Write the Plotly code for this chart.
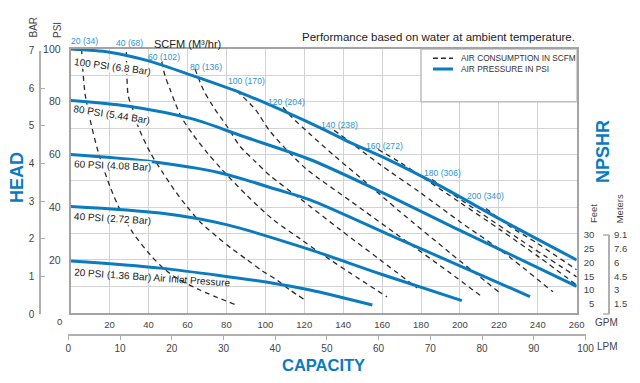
import plotly.graph_objects as go

# page body has an 8px margin: figure drawn at (8,8); size chosen to fit the 640x383 window
OFF = 8
W, H = 640 - 2 * OFF, 383 - 2 * OFF
def px(x): return (x - OFF) / W
def py(y): return 1 - (y - OFF) / H

BLUE = "#0b7bbf"
LBLUE = "#2f93cf"
TXT = "#333333"
GRID = "#d3d3d3"
AX = "#a3a3a3"
FONT = "Liberation Sans, Arial, Helvetica, sans-serif"

# ---------------- data ----------------
gpm_ticks = list(range(20, 261, 20))
psi_ticks = list(range(0, 101, 10))
psi_text = ["", "", "20", "", "40", "", "60", "", "80", "", "100"]
bar_ticks = list(range(0, 8))
lpm_ticks = list(range(0, 101, 10))
npshr_feet = [5, 10, 15, 20, 25, 30]
npshr_m = ["1.5", "3", "4.5", "6", "7.6", "9.1"]

pressure_names = ["100 PSI (6.8 Bar)", "80 PSI (5.44 Bar)", "60 PSI (4.08 Bar)",
                  "40 PSI (2.72 Bar)", "20 PSI (1.36 Bar) Air Inlet Pressure"]
p100_gpm = [0, 20, 40, 63, 88, 113, 128, 142, 161, 190, 221, 260]
p100_psi = [100, 98.8, 95.5, 89.8, 83.2, 75.3, 70.2, 65.1, 58.8, 48.0, 35.3, 20.0]
p80_gpm = [0, 29, 63, 88, 123, 157, 200, 260]
p80_psi = [80.5, 78.4, 73.4, 67.0, 58.1, 46.7, 31.2, 10.0]
p60_gpm = [0, 39, 77, 106, 123, 169, 236]
p60_psi = [60.0, 57.5, 53.0, 46.7, 42.8, 27.8, 6.1]
p40_gpm = [0, 46, 80, 123, 160, 201]
p40_psi = [40.3, 37.8, 33.4, 23.9, 14.5, 4.6]
p20_gpm = [0, 46, 104, 123, 155]
p20_psi = [19.6, 16.9, 11.2, 8.6, 2.9]

air_names = ["20 (34)", "40 (68)", "60 (102)", "80 (136)", "100 (170)",
             "120 (204)", "140 (238)", "160 (272)", "180 (306)", "200 (340)"]
a20_gpm = [5.6, 6.2, 7.4, 9.9, 14.2, 20.2, 25.3, 32.0, 40.8, 48.5, 56.2, 66.4, 85.0]
a20_psi = [100, 92.4, 82.9, 73.4, 60.8, 47.8, 39.1, 30.3, 22.0, 16.3, 12.4, 8.6, 2.9]
a40_gpm = [28.6, 28.9, 29.6, 31.9, 34.6, 40.8, 46.9, 53.1, 59.8, 66.4, 75.2, 82.9, 90.6, 98.3, 106.0, 112.7, 120.4]
a40_psi = [98.9, 89.3, 82.1, 77.2, 70.7, 60.8, 53.6, 46.7, 40.2, 34.5, 28.8, 24.2, 20.1, 15.9, 12.4, 8.6, 4.8]
a60_gpm = [46.8, 48.5, 51.0, 53.6, 57.0, 62.8, 70.0, 77.7, 90.6, 104.0, 117.8, 128.1, 143.5, 162.5]
a60_psi = [95.1, 89.8, 84.8, 79.7, 74.0, 67.6, 60.8, 54.3, 44.4, 35.3, 28.1, 22.7, 15.1, 6.0]
a80_gpm = [63.9, 68.0, 73.1, 80.3, 87.0, 94.7, 102.4, 117.8, 138.4, 158.9, 178.0]
a80_psi = [92.4, 84.8, 78.3, 70.7, 63.1, 57.4, 52.0, 43.3, 31.5, 20.1, 9.4]
a100_gpm = [85.3, 94.7, 102.4, 111.7, 121.4, 143.5, 169.2, 194.9, 211.4]
a100_psi = [84.1, 77.2, 68.8, 61.2, 54.3, 42.5, 28.8, 15.1, 6.0]
a120_gpm = [109.1, 113.7, 123.0, 135.8, 148.7, 169.2, 194.9, 220.6]
a120_psi = [77.9, 74.1, 67.7, 59.3, 51.3, 38.3, 22.7, 7.5]
a140_gpm = [135.3, 141.8, 158.9, 179.5, 200.0, 220.6, 247.8]
a140_psi = [69.2, 65.7, 56.2, 45.6, 34.5, 23.9, 7.9]
a160_gpm = [158.0, 169.2, 179.5, 200.0, 220.6, 241.2, 260.0]
a160_psi = [61.9, 57.0, 52.0, 41.8, 31.5, 20.8, 10.5]
a180_gpm = [185.7, 194.9, 210.3, 230.9, 260.0]
a180_psi = [50.5, 45.6, 38.0, 27.7, 13.6]
a200_gpm = [213.4, 225.7, 239.6, 249.9, 260.0]
a200_psi = [39.5, 32.7, 26.4, 21.3, 16.3]

pressure_series = [(p100_gpm, p100_psi), (p80_gpm, p80_psi), (p60_gpm, p60_psi),
                   (p40_gpm, p40_psi), (p20_gpm, p20_psi)]
air_series = [(a20_gpm, a20_psi), (a40_gpm, a40_psi), (a60_gpm, a60_psi), (a80_gpm, a80_psi),
              (a100_gpm, a100_psi), (a120_gpm, a120_psi), (a140_gpm, a140_psi),
              (a160_gpm, a160_psi), (a180_gpm, a180_psi), (a200_gpm, a200_psi)]

# ---------------- figure ----------------
fig = go.Figure()
for (gx, gy), name in zip(air_series, air_names):
    fig.add_trace(go.Scatter(x=gx, y=gy, mode="lines", name=name,
                             line=dict(color="#2b2b2b", width=1.3, dash="5px,4px", shape="spline", smoothing=0.8),
                             hoverinfo="skip", showlegend=False, cliponaxis=True))
for (gx, gy), name in zip(pressure_series, pressure_names):
    fig.add_trace(go.Scatter(x=gx, y=gy, mode="lines", name=name,
                             line=dict(color=BLUE, width=3, shape="spline", smoothing=0.8),
                             hoverinfo="skip", showlegend=False))
# dummy traces to activate extra axes
for ya in ["y2", "y3", "y4"]:
    fig.add_trace(go.Scatter(x=[None], y=[None], xaxis="x2", yaxis=ya, showlegend=False, hoverinfo="skip"))

fig.update_layout(
    width=W, height=H,
    margin=dict(l=0, r=0, t=0, b=0, autoexpand=False),
    paper_bgcolor="white", plot_bgcolor="rgba(0,0,0,0)",
    showlegend=False,
    font=dict(family=FONT, color=TXT, size=10),
    xaxis=dict(domain=[px(70.7), px(576.7)], range=[0, 260], tickvals=gpm_ticks,
               showgrid=True, gridcolor=GRID, gridwidth=1, zeroline=False,
               showline=True, linecolor=AX, linewidth=2, mirror=True, ticks="",
               tickfont=dict(size=9.5, color="#444"), ticklabelstandoff=2, fixedrange=True),
    yaxis=dict(domain=[py(312.7), py(49)], range=[0, 100], tickvals=psi_ticks, ticktext=psi_text,
               showgrid=True, gridcolor=GRID, gridwidth=1, zeroline=False,
               showline=True, linecolor=AX, linewidth=2, mirror=True, ticks="",
               tickfont=dict(size=10.5, color="#444"), ticklabelstandoff=6, fixedrange=True),
    xaxis2=dict(domain=[px(68.3), px(585.5)], range=[0, 100], anchor="free", position=py(335),
                side="bottom", tickvals=lpm_ticks, showgrid=False, zeroline=False,
                showline=True, linecolor="#b0b0b0", linewidth=1.5, ticks="outside", ticklen=4,
                tickcolor="#b0b0b0", tickfont=dict(size=10, color="#444"), fixedrange=True),
    yaxis2=dict(domain=[py(314), py(50.7)], range=[0, 7], anchor="free", position=px(40),
                side="left", tickvals=bar_ticks, showgrid=False, zeroline=False,
                showline=True, linecolor="#b0b0b0", linewidth=1.5, ticks="inside", ticklen=4,
                tickcolor="#b0b0b0", tickfont=dict(size=10, color="#444"), ticklabelstandoff=3, fixedrange=True),
    yaxis3=dict(domain=[py(314), py(235)], range=[1.25, 30], anchor="free", position=px(609),
                side="left", tickvals=npshr_feet, showgrid=False, zeroline=False,
                showline=True, linecolor="#b0b0b0", linewidth=1.5, ticks="",
                tickfont=dict(size=9.5, color="#444"), ticklabelstandoff=12, fixedrange=True),
    yaxis4=dict(domain=[py(314), py(235)], range=[1.25, 30], anchor="free", position=px(609),
                side="right", tickvals=npshr_feet, ticktext=npshr_m, showgrid=False, zeroline=False,
                showline=False, ticks="", tickfont=dict(size=9.5, color="#444"), ticklabelstandoff=4,
                fixedrange=True),
)

shapes = []
# legend box
shapes.append(dict(type="rect", xref="x", yref="y", x0=180, x1=260, y0=80, y1=100,
                   fillcolor="white", line=dict(color="#bdbdbd", width=1.5), layer="above"))
shapes.append(dict(type="line", xref="paper", yref="paper", x0=px(433), x1=px(453), y0=py(58.3), y1=py(58.3),
                   line=dict(color="#2b2b2b", width=1.5, dash="5px,3px"), layer="above"))
shapes.append(dict(type="line", xref="paper", yref="paper", x0=px(433), x1=px(453), y0=py(69), y1=py(69),
                   line=dict(color=BLUE, width=3), layer="above"))
# NPSHR bracket ends
for yy in (235, 314):
    shapes.append(dict(type="line", xref="paper", yref="paper", x0=px(603), x1=px(609.5), y0=py(yy), y1=py(yy),
                       line=dict(color="#b0b0b0", width=1.5)))
fig.update_layout(shapes=shapes)

ann = []
def A(text, x, y, size=10, color=TXT, angle=0, xanchor="center", bold=False, bg=None):
    t = f"<b>{text}</b>" if bold else text
    d = dict(text=t, x=px(x), y=py(y), xref="paper", yref="paper", showarrow=False,
             xanchor=xanchor, yanchor="middle", textangle=angle,
             font=dict(size=size, color=color, family=FONT))
    if bg:
        d.update(bgcolor=bg, borderpad=0)
    ann.append(d)

A("AIR CONSUMPTION IN SCFM", 459, 58.3, size=8.3, color="#333", xanchor="left")
A("AIR PRESSURE IN PSI", 459, 68.7, size=8.3, color="#333", xanchor="left")

# pressure curve labels
plab = [(112, 66, 7.5), (111.5, 115, 9), (112.5, 166, 2.5), (112.5, 218, 3.5), (152, 277.5, 4)]
for i, (name, (x, y, a)) in enumerate(zip(pressure_names, plab)):
    A(name, x, y, size=10, color="#222", angle=a,
      bg="rgba(255,255,255,0.9)" if i < 4 else None)

# air consumption labels
alab = [(84.2, 40.5), (129.7, 42.5), (163.7, 56.7), (206, 66.7), (246.3, 81),
        (286, 101.7), (339.3, 125), (384.7, 145.7), (442.5, 173), (485.5, 195.7)]
for name, (x, y) in zip(air_names, alab):
    A(name, x, y, size=8.6, color=LBLUE)

A("HEAD", 17, 178, size=18, color=BLUE, angle=-90, bold=True)
A("CAPACITY", 323.7, 365, size=16.5, color=BLUE, bold=True)
A("NPSHR", 603, 152, size=18, color=BLUE, angle=-90, bold=True)
A("Feet", 593, 214, size=9.5, color="#444", angle=-90)
A("Meters", 619.3, 209, size=9.5, color="#444", angle=-90)
A("BAR", 33, 27.5, size=10, color="#444", angle=-90)
A("PSI", 57, 30, size=10, color="#444", angle=-90)
A("SCFM (M³/hr)", 151.7, 43.5, size=11, color="#222", xanchor="left")
A("Performance based on water at ambient temperature.", 577, 37, size=11.5, color="#222", xanchor="right")
A("GPM", 593, 322, size=10, color="#444", xanchor="left")
A("LPM", 595, 346.7, size=10, color="#444", xanchor="left")
A("0", 59, 321.7, size=9.5, color="#444")
fig.update_layout(annotations=ann)

fig.write_html("out.html")
